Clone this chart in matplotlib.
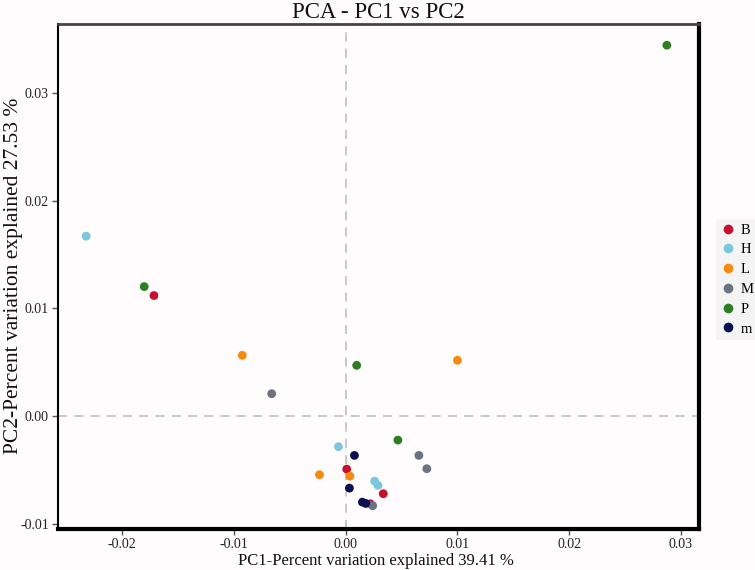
import matplotlib
matplotlib.use("Agg")
import matplotlib.pyplot as plt
from matplotlib.lines import Line2D

plt.rcParams['font.family'] = ['Liberation Serif', 'DejaVu Serif']

groups = ["B", "H", "L", "M", "P", "m"]
colors = ["#C8102E", "#7CC7DC", "#F58A0F", "#6B7280", "#2E7D22", "#0B1050"]

pc1 = {
    "B": [-0.01717, 0.00009, 0.00336, 0.00220],
    "H": [-0.02324, -0.00065, 0.00259, 0.00289],
    "L": [-0.00926, 0.01000, -0.00235, 0.00038],
    "M": [-0.00663, 0.00655, 0.00726, 0.00241],
    "P": [0.02875, -0.01804, 0.00098, 0.00467],
    "m": [0.00078, 0.00033, 0.00149, 0.00179],
}
pc2 = {
    "B": [0.01120, -0.00489, -0.00717, -0.00810],
    "H": [0.01670, -0.00281, -0.00600, -0.00640],
    "L": [0.00566, 0.00520, -0.00541, -0.00554],
    "M": [0.00210, -0.00362, -0.00485, -0.00828],
    "P": [0.03440, 0.01203, 0.00473, -0.00220],
    "m": [-0.00362, -0.00665, -0.00795, -0.00807],
}

xticks = [-0.02, -0.01, 0.00, 0.01, 0.02, 0.03]
yticks = [-0.01, 0.00, 0.01, 0.02, 0.03]

bg = "#FEFCFC"
fig = plt.figure(figsize=(7.55, 5.7), dpi=100, facecolor=bg)
ax = fig.add_axes([58/755, 41/570, (698.7-58)/755, (529-24)/570])
ax.set_facecolor(bg)

ax.axvline(0, color="#C4C4C4", lw=1.3, ls=(0, (5, 4)), zorder=1)
ax.axhline(0, color="#C4C4C4", lw=1.3, ls=(0, (5, 4)), zorder=1)

for g, c in zip(groups, colors):
    ax.scatter(pc1[g], pc2[g], s=40, color=c, edgecolors="none", zorder=3)

ax.set_xlim(-0.02576, 0.0316)
ax.set_ylim(-0.01044, 0.03637)
ax.set_xticks(xticks)
ax.set_xticklabels([f"{v:.2f}" for v in xticks])
ax.set_yticks(yticks)
ax.set_yticklabels([f"{v:.2f}" for v in yticks])
ax.tick_params(axis="both", direction="out", length=4, width=1, color="#555555",
               labelsize=10, labelcolor="#222222", pad=2.5)

ax.spines["left"].set_linewidth(1.5)
ax.spines["left"].set_color("black")
ax.spines["bottom"].set_linewidth(3)
ax.spines["bottom"].set_color("black")
ax.spines["right"].set_linewidth(3)
ax.spines["right"].set_color("black")
ax.spines["top"].set_linewidth(2)
ax.spines["top"].set_color("#444444")

ax.set_xlabel("PC1-Percent variation explained 39.41 %", fontsize=12, color="#111111")
ax.xaxis.set_label_coords((376-58)/640.7, -(561-529)/505)
ax.xaxis.label.set_va("center")
ax.set_ylabel("PC2-Percent variation explained 27.53 %", fontsize=15.5, color="#111111")
ax.yaxis.set_label_coords((14-58)/640.7, 0.502)
ax.yaxis.label.set_va("center")
fig.text(378/755, 1-13/570, "PCA - PC1 vs PC2", ha="center", va="center", fontsize=16.5, color="#111111")

handles = [Line2D([0], [0], marker="o", ls="none", markersize=7, markerfacecolor=c,
                  markeredgecolor="none") for c in colors]
leg = fig.legend(handles, groups, loc="center left", bbox_to_anchor=(716/755, 1-279.5/570),
                 frameon=True, fontsize=10.5, labelspacing=0.45, handletextpad=0.4,
                 handlelength=1.0, borderpad=0.3, borderaxespad=0)
leg.get_frame().set_facecolor("#F3F3F3")
leg.get_frame().set_edgecolor("none")
leg.get_frame().set_boxstyle("square", pad=0)

fig.savefig("out.png", dpi=100, facecolor=bg)
